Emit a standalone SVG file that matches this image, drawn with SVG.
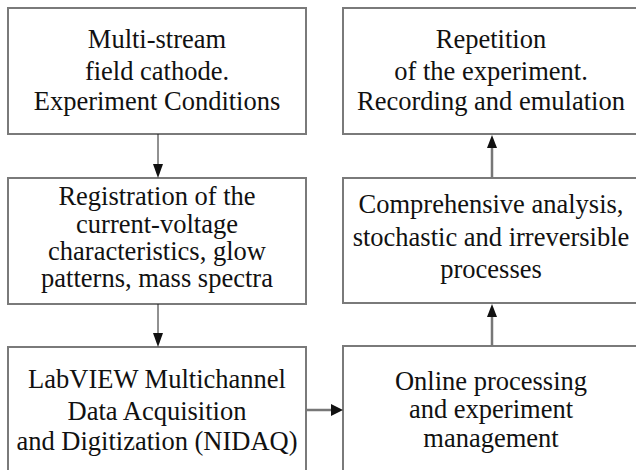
<svg xmlns="http://www.w3.org/2000/svg" width="636" height="470" viewBox="0 0 636 470">
<style>
.box{fill:#fff;stroke:#7a7a7a;stroke-width:2}
.thin{stroke:#222;stroke-width:1;fill:none}
.thick{stroke:#777;stroke-width:2.5;fill:none}
</style>
<rect width="636" height="470" fill="#fff"/>
<g font-family="Liberation Serif, Times New Roman, DejaVu Serif, serif" font-size="26.5" fill="#111" text-anchor="middle">
<g id="n1"><rect class="box" x="8" y="8" width="298" height="126"/>
<text x="157" y="48">Multi-stream</text>
<text x="157" y="80">field cathode.</text>
<text x="157" y="110">Experiment Conditions</text></g>
<g id="n2"><rect class="box" x="8" y="178" width="298" height="126"/>
<text x="157" y="205">Registration of the</text>
<text x="157" y="233">current-voltage</text>
<text x="157" y="260">characteristics, glow</text>
<text x="157" y="287">patterns, mass spectra</text></g>
<g id="n3"><rect class="box" x="8" y="347" width="298" height="140"/>
<text x="157" y="388">LabVIEW Multichannel</text>
<text x="157" y="420">Data Acquisition</text>
<text x="157" y="450">and Digitization (NIDAQ)</text></g>
<g id="n4"><rect class="box" x="343" y="346" width="298" height="140"/>
<text x="491" y="390">Online processing</text>
<text x="491" y="418">and experiment</text>
<text x="491" y="447">management</text></g>
<g id="n5"><rect class="box" x="343" y="178" width="298" height="125"/>
<text x="491" y="213">Comprehensive analysis,</text>
<text x="491" y="246">stochastic and irreversible</text>
<text x="491" y="278">processes</text></g>
<g id="n6"><rect class="box" x="343" y="8" width="298" height="126"/>
<text x="491" y="48">Repetition</text>
<text x="491" y="80">of the experiment.</text>
<text x="491" y="110">Recording and emulation</text></g>
</g>
<g id="connectors">
<line class="thin" x1="158" y1="134" x2="158" y2="165"/>
<polygon points="153,164 163,164 158,178" fill="#111"/>
<line class="thin" x1="158" y1="304" x2="158" y2="334"/>
<polygon points="153,333 163,333 158,347" fill="#111"/>
<line class="thick" x1="306" y1="410" x2="332" y2="410"/>
<polygon points="331,404 331,416 343,410" fill="#111"/>
<line class="thick" x1="492" y1="346" x2="492" y2="316"/>
<polygon points="487,317 497,317 492,304" fill="#111"/>
<line class="thick" x1="492" y1="178" x2="492" y2="147"/>
<polygon points="487,148 497,148 492,135" fill="#111"/>
</g>
</svg>
